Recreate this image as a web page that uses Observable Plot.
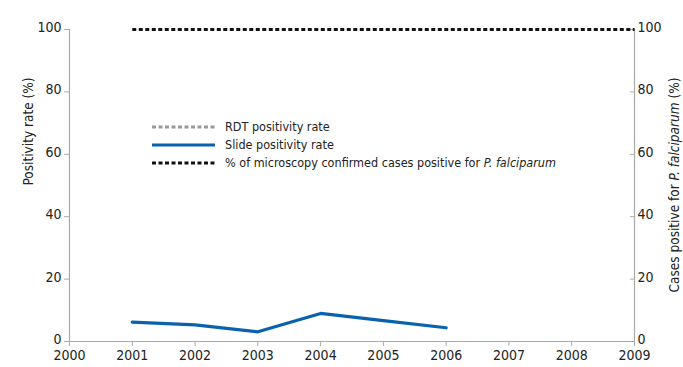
<!DOCTYPE html>
<html><head><meta charset="utf-8">
<script src="https://cdn.jsdelivr.net/npm/d3@7"></script>
<script src="https://cdn.jsdelivr.net/npm/@observablehq/plot@0.6"></script>
<style>
body{margin:0;background:#fff;font-family:"DejaVu Sans Condensed","DejaVu Sans",sans-serif;font-stretch:condensed;}
svg text{font-stretch:condensed;}
#wrap{position:relative;width:683px;height:367px;}
#legend{position:absolute;left:152px;top:118px;font-size:12.5px;color:#222;line-height:18px;font-stretch:condensed;}
#legend div{display:flex;align-items:center;height:18px;}
#legend svg{margin-right:10px;}
</style></head><body>
<div id="wrap"><div id="legend"></div></div>
<script>
const years = [2001, 2002, 2003, 2004, 2005, 2006];
const slidePositivity = [6.2, 5.3, 3.1, 9.0, 6.7, 4.4];
const pfYears = [2001, 2002, 2003, 2004, 2005, 2006, 2007, 2008, 2009];
const pfPercent = [100, 100, 100, 100, 100, 100, 100, 100, 100];
const xTicks = [2000, 2001, 2002, 2003, 2004, 2005, 2006, 2007, 2008, 2009];
const yTicks = [0, 20, 40, 60, 80, 100];
const legendLabels = ["RDT positivity rate", "Slide positivity rate", "% of microscopy confirmed cases positive for "];

const slide = years.map((y, i) => ({year: y, value: slidePositivity[i]}));
const pf = pfYears.map((y, i) => ({year: y, value: pfPercent[i]}));
const axisColor = "#aaa";
const ff = '"DejaVu Sans Condensed","DejaVu Sans",sans-serif';

const chart = Plot.plot({
  width: 683, height: 367,
  marginLeft: 69, marginRight: 49, marginTop: 29, marginBottom: 26,
  style: {fontFamily: ff, fontSize: "14px", color: "#222"},
  x: {domain: [2000, 2009]},
  y: {domain: [0, 100]},
  marks: [
    Plot.ruleX([2000, 2009], {stroke: axisColor, strokeWidth: 1.2}),
    Plot.ruleY([0], {stroke: axisColor, strokeWidth: 1.2}),
    Plot.axisX({ticks: xTicks, tickFormat: "d", tickSize: 5, tickPadding: 4, stroke: axisColor, label: null, fontSize: 14}),
    Plot.axisY({anchor: "left", ticks: yTicks, tickSize: 5, tickFormat: () => "", stroke: axisColor, label: null}),
    Plot.axisY({anchor: "left", ticks: yTicks, tickSize: 0, tickPadding: 8, dy: -2, label: null, fontSize: 14}),
    Plot.axisY({anchor: "right", ticks: yTicks, tickSize: -5, tickFormat: () => "", stroke: axisColor, label: null}),
    Plot.axisY({anchor: "right", ticks: yTicks, tickSize: 0, tickPadding: 3, dy: -2, label: null, fontSize: 14}),
    Plot.text(["Positivity rate (%)"], {frameAnchor: "left", rotate: -90, dx: -41, fontSize: 13.5, fill: "#222"}),
    Plot.lineY(slide, {x: "year", y: "value", stroke: "#0a62ac", strokeWidth: 3.2}),
    Plot.lineY(pf, {x: "year", y: "value", stroke: "#111", strokeWidth: 3, strokeDasharray: "4,2.5", strokeLinecap: "butt"})
  ]
});
document.getElementById("wrap").appendChild(chart);

const svg = d3.select(chart);
const t = svg.append("text")
  .attr("transform", "translate(679,185) rotate(-90)")
  .attr("text-anchor", "middle")
  .attr("font-size", 13.5).attr("fill", "#222");
t.append("tspan").text("Cases positive for ");
t.append("tspan").attr("font-style", "italic").text("P. falciparum");
t.append("tspan").text(" (%)");

const legendStyles = [
  {stroke: "#999", dash: "4,2.5"},
  {stroke: "#0a62ac", dash: null},
  {stroke: "#111", dash: "4,2.5"}
];
const lg = d3.select("#legend");
legendLabels.forEach((lab, i) => {
  const row = lg.append("div");
  const s = row.append("svg").attr("width", 63).attr("height", 6);
  const ln = s.append("line").attr("x1", 0).attr("x2", 63).attr("y1", 3).attr("y2", 3)
    .attr("stroke", legendStyles[i].stroke).attr("stroke-width", 3);
  if (legendStyles[i].dash) ln.attr("stroke-dasharray", legendStyles[i].dash);
  row.append("span").style("white-space", "pre").text(lab);
  if (i === 2) row.append("span").style("font-style", "italic").text("P. falciparum");
});
</script>
</body></html>
